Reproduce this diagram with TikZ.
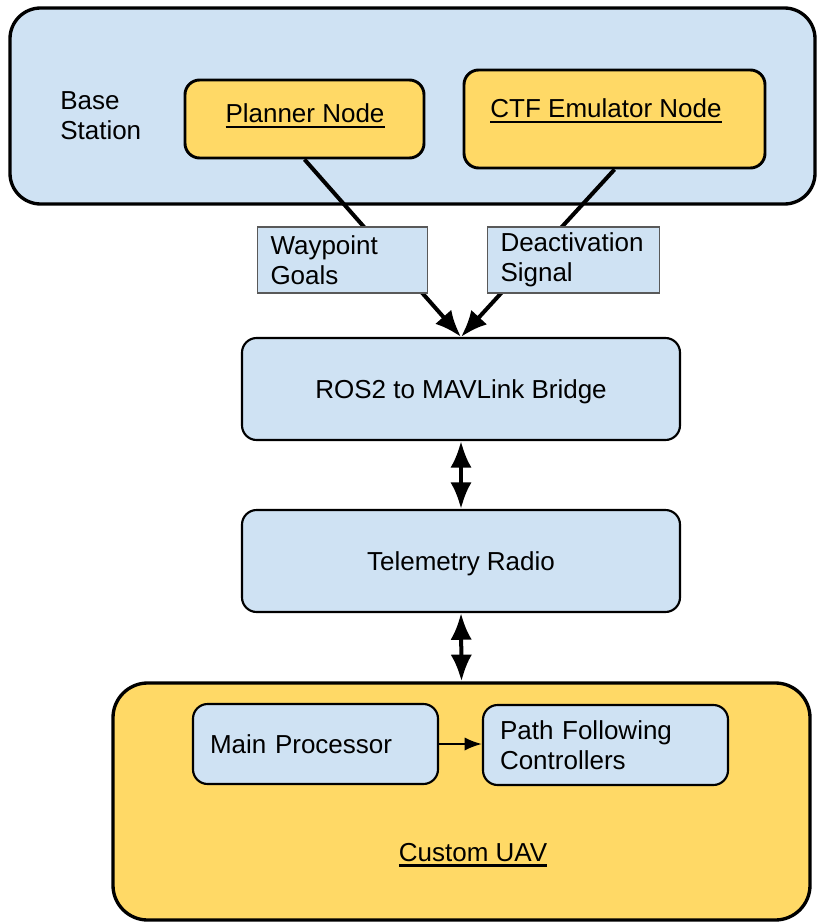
\documentclass[tikz,border=0pt]{standalone}
\usepackage{fontspec}
\setmainfont{Liberation Sans}
\definecolor{paleblue}{HTML}{CFE2F3}
\definecolor{paleyellow}{HTML}{FFD966}
\definecolor{tagline}{HTML}{595959}
\usetikzlibrary{arrows.meta}
\newcommand{\ulink}[1]{\setbox0\hbox{#1}\rlap{\rule[-4pt]{\wd0}{1.9pt}}\box0}

\begin{document}
\begin{tikzpicture}[x=0.75pt,y=-0.75pt,
    every node/.style={font=\fontsize{19.5}{22.5}\selectfont},
    outerbox/.style={draw, line width=2.5pt, rounded corners=23pt},
    rosnode/.style={draw, fill=paleyellow, line width=2.2pt, rounded corners=11pt},
    linkbox/.style={draw, fill=paleblue, line width=1.6pt, rounded corners=11pt},
    tagbox/.style={draw=tagline, fill=paleblue, line width=0.8pt, align=left, anchor=center,
        inner xsep=9.75pt, text width=108pt, minimum height=49.5pt},
    flow/.style={line width=3pt, -{Latex[length=20pt,width=16pt]}},
    twoway/.style={line width=3pt, {Latex[length=20pt,width=16pt]}-{Latex[length=20pt,width=16pt]}}]
        \useasboundingbox (0,0) rectangle (817,924);

        % Base station
        \node[outerbox, fill=paleblue, minimum width=603.75pt, minimum height=147pt] (base) at (412.5,106) {};
        \node[align=left, anchor=west, inner sep=0pt] (basetext) at (60,116) {Base\\Station};
        \node[rosnode, minimum width=179.25pt, minimum height=58.5pt] (planner) at (304.5,119) {};
        \node (plannertext) at (305,116) {\ulink{Planner Node}};
        \node[rosnode, minimum width=225.75pt, minimum height=73.5pt] (ctf) at (614.5,119) {};
        \node (ctftext) at (606,111) {\ulink{CTF Emulator Node}};

        % Bridge and radio
        \node[linkbox, text depth=0pt, minimum width=328.5pt, minimum height=76.5pt] (bridge) at (461,389) {ROS2 to MAVLink Bridge};
        \node[linkbox, text depth=0pt, minimum width=328.5pt, minimum height=76.5pt] (radio) at (461,561) {Telemetry Radio};

        % UAV
        \node[outerbox, fill=paleyellow, minimum width=522.75pt, minimum height=177.75pt, rounded corners=26pt] (uav) at (461.5,801.5) {};
        \node (uavtext) at (473,855) {\ulink{Custom UAV}};
        \node[linkbox, align=left, text depth=0pt, inner xsep=12.75pt, text width=158.25pt, minimum height=60pt] (proc) at (315.5,744) {Main Processor};
        \node[linkbox, align=left, inner xsep=12.75pt, text width=158.25pt, minimum height=60pt] (ctrl) at (605.5,745) {Path Following\\Controllers};

        % Links
        \draw[flow] (planner.south) -- (bridge.north);
        \draw[flow] (ctf.south) -- (bridge.north);
        \draw[twoway] (bridge.south) -- (radio.north);
        \draw[twoway] (radio.south) -- (uav.north);
        \draw[line width=1.6pt, -{Latex[length=13pt,width=10pt]}] (proc.east) -- (proc.east -| ctrl.west);

        % Message tags
        \node[tagbox] (goals) at (342.5,260) {Waypoint\\Goals};
        \node[tagbox, text width=109.5pt] (signal) at (573.5,260) {Deactivation\\Signal};
    \end{tikzpicture}
\end{document}
